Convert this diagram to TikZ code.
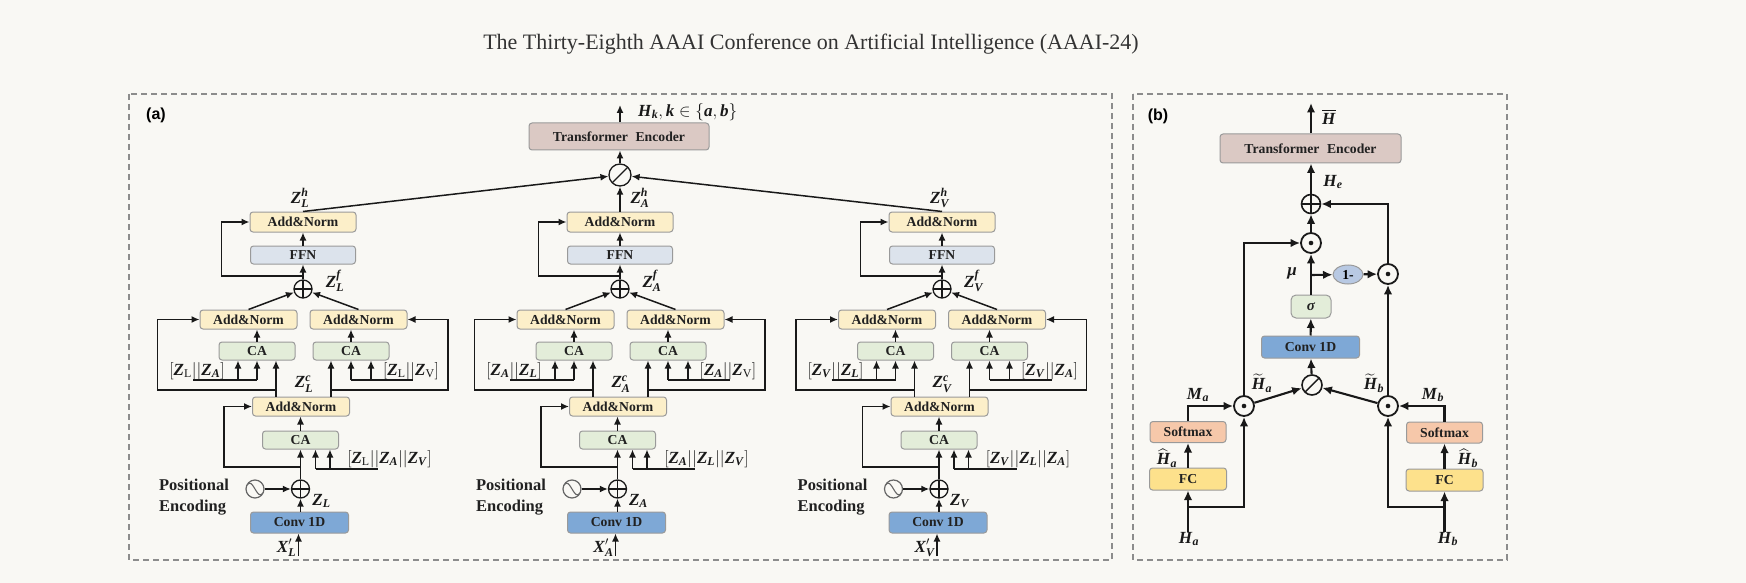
\documentclass[tikz,border=0pt]{standalone}
\usepackage{amsmath}
\usepackage{fontspec}
\setmainfont{Liberation Serif}
\newfontfamily\sansb{Liberation Sans}
\usetikzlibrary{arrows.meta,shapes.geometric,calc}
\definecolor{bg}{HTML}{F9F8F4}
\definecolor{boxgray}{HTML}{9A9A9A}
\definecolor{framegray}{HTML}{8C8C8C}
\definecolor{anfill}{HTML}{FCEFC9}
\definecolor{ffnfill}{HTML}{DCE3EC}
\definecolor{cafill}{HTML}{E3EDD9}
\definecolor{convfill}{HTML}{7EA8D6}
\definecolor{tefill}{HTML}{DBC9C4}
\definecolor{softfill}{HTML}{F6C8AA}
\definecolor{fcfill}{HTML}{FDE18C}
\definecolor{onefill}{HTML}{B8C9E3}
\newcommand{\bi}[1]{\textbf{\textit{#1}}}
% #1 prefix, #2 upper axis x, #3 lower axis x, #4 x offset of Z^h label
\newcommand{\encbranch}[4]{%
  \node[an,minimum width=106pt,minimum height=20pt] (#1an3) at (#2,222) {Add\&Norm};
  \node[ffn] (#1ffn) at (#2,255) {FFN};
  \node[oplus] (#1p2) at (#2,289) {};
  \node[an] (#1anL) at (#3-52,319.5) {Add\&Norm};
  \node[an] (#1anR) at (#3+58,319.5) {Add\&Norm};
  \node[ca] (#1caL) at (#3-43.5,351) {CA};
  \node[ca] (#1caR) at (#3+50.5,351) {CA};
  \node[an] (#1an1) at (#3+0.5,406.5) {Add\&Norm};
  \node[ca] (#1ca1) at (#3,440) {CA};
  \node[oplus] (#1p1) at (#3,489) {};
  \node[sine] (#1sin) at (#3-45.5,489) {};
  \node[conv] (#1conv) at (#3-1,522.5) {Conv 1D};
  % labels
  \node[lab] at (#2+#4,198) {\labh};
  \node[lab] at (#2+32,281) {\labf};
  \node[lab] at (#3+3.5,384) {\labc};
  \node[lab] at (#3+21,501) {\labz};
  \node[lab] (#1x) at (#3-14,548) {\labx};
  \node[lab] at (#3-103.5,371) {\labA};
  \node[lab] at (#3+110.5,371) {\labB};
  \node[lab] at (#3+89,459) {\labC};
  \node[posenc] at (#3-106.5,497.5) {Positional\\Encoding};
  % upper connectors
  \draw[arr] (#1ffn) -- (#1an3);
  \draw[arr] (#1p2) -- (#1ffn);
  \coordinate (#1s3) at (#2,276);
  \draw[arr] (#1s3) -| ([xshift=-28pt]#1an3.west) -- (#1an3.west);
  \draw[arr] (#1anL.north) -- (#1p2);
  \draw[arr] (#1anR.north) -- (#1p2);
  \draw[arr] (#1caL.north) -- (#1caL.north |- #1anL.south);
  \draw[arr] (#1caR.north) -- (#1caR.north |- #1anR.south);
  % left CA inputs
  \coordinate (#1fLa) at (#3-107.5,380);
  \coordinate (#1fLb) at (#3-62.5,380);
  \coordinate (#1fLc) at (#3-43.5,380);
  \draw[ln] (#1fLa) -- (#1fLc);
  \draw[arr] (#1fLb) -- (#1fLb |- #1caL.south);
  \draw[arr] (#1fLc) -- (#1fLc |- #1caL.south);
  % right CA inputs
  \coordinate (#1fRa) at (#3+50.5,380);
  \coordinate (#1fRb) at (#3+70.5,380);
  \coordinate (#1fRc) at (#3+112.5,380);
  \draw[ln] (#1fRa) -- (#1fRc);
  \draw[arr] (#1fRa) -- (#1fRa |- #1caR.south);
  \draw[arr] (#1fRb) -- (#1fRb |- #1caR.south);
  % Z^c branches and skips
  \coordinate (#1zL) at (#3-24.5,390);
  \coordinate (#1zR) at (#3+30.5,390);
  \draw[arr] (#1an1.north -| #1zL) -- (#1zL |- #1caL.south);
  \draw[arr] (#1an1.north -| #1zR) -- (#1zR |- #1caR.south);
  \draw[arr] (#1zL) -| ([xshift=-42pt]#1anL.west) -- (#1anL.west);
  \draw[arr] (#1zR) -| ([xshift=40.5pt]#1anR.east) -- (#1anR.east);
  % lower part
  \draw[arr] (#1ca1.north) -- (#1ca1.north |- #1an1.south);
  \draw[arr] (#1p1) -- (#1ca1);
  \coordinate (#1sk) at (#3,467);
  \draw[arr] (#1sk) -| ([xshift=-28pt]#1an1.west) -- (#1an1.west);
  \coordinate (#1fa) at (#3+15,469);
  \coordinate (#1fb) at (#3+29.5,469);
  \coordinate (#1fc) at (#3+77.5,469);
  \draw[ln] (#1fa) -- (#1fc);
  \draw[arr] (#1fa) -- (#1fa |- #1ca1.south);
  \draw[arr] (#1fb) -- (#1fb |- #1ca1.south);
  \draw[arr] (#1sin) -- (#1p1);
  \draw[arr] (#1p1 |- #1conv.north) -- (#1p1);
  \coordinate (#1in) at (#3-2,556);
  \draw[arr] (#1in) -- (#1in |- #1conv.south);
}
\begin{document}
\begin{tikzpicture}[x=1pt,y=-1pt,
  box/.style={draw=boxgray, line width=1pt, rounded corners=3pt, inner sep=0pt,
    font=\fontsize{13.7}{15}\selectfont\bfseries, text=black!87},
  an/.style={box, fill=anfill, minimum width=97pt, minimum height=19pt},
  ffn/.style={box, fill=ffnfill, minimum width=105pt, minimum height=18pt},
  ca/.style={box, fill=cafill, minimum width=76pt, minimum height=18pt},
  conv/.style={box, fill=convfill, minimum width=98pt, minimum height=21pt},
  te/.style={box, fill=tefill, minimum width=180pt, minimum height=27pt},
  soft/.style={box, fill=softfill, minimum width=76pt, minimum height=21pt},
  fc/.style={box, fill=fcfill, minimum width=77pt, minimum height=22pt},
  lab/.style={inner sep=0pt, font=\fontsize{17}{19}\selectfont, text=black!90},
  posenc/.style={inner sep=0pt, align=left, font=\fontsize{16.5}{21}\selectfont\bfseries, text=black!87},
  ln/.style={line width=1.5pt, draw=black!90},
  arr/.style={ln, -{Latex[length=8pt,width=7pt]}},
  bln/.style={line width=2.1pt, draw=black!90},
  barr/.style={bln, -{Latex[length=9.5pt,width=8.5pt]}},
  opbase/.style={circle, draw=black!90, line width=1.3pt, minimum size=18pt, inner sep=0pt, fill=bg},
  oplus/.style={opbase, path picture={\draw[black!90, line width=1.2pt] (path picture bounding box.north) -- (path picture bounding box.south) (path picture bounding box.west) -- (path picture bounding box.east);}},
  ocat/.style={opbase, minimum size=22pt, path picture={\draw[black!90, line width=1.4pt] (path picture bounding box.south west) -- (path picture bounding box.north east);}},
  odot/.style={opbase, minimum size=20pt, line width=1.8pt, path picture={\fill[black!90] (path picture bounding box.center) circle (2.3pt);}},
  sine/.style={circle, draw=black!60, line width=1.2pt, minimum size=18pt, inner sep=0pt,
    path picture={\draw[black!60, line width=1.1pt, shift={(path picture bounding box.center)}] (-8,-4) .. controls (-2,-13) and (2,13) .. (8,4);}},
  frame/.style={draw=framegray, line width=1.5pt, dash pattern=on 6pt off 4pt}
]
\useasboundingbox (0,0) rectangle (1746,583);
\fill[bg] (0,0) rectangle (1746,583);

\node[font=\fontsize{22}{24}\selectfont, text=black!80, inner sep=0pt] (title) at (811,44.5)
  {The Thirty-Eighth AAAI Conference on Artificial Intelligence (AAAI-24)};

\draw[frame] (129,94) rectangle (1112,560);
\draw[frame] (1133,94) rectangle (1507,560);
\node[font=\fontsize{16}{18}\selectfont\sansb\bfseries, inner sep=0pt] (pa) at (156,115) {(a)};
\node[font=\fontsize{16}{18}\selectfont\sansb\bfseries, inner sep=0pt] (pb) at (1158,116) {(b)};

% ---------- panel (a) ----------
\def\labh{$\bi{Z}^{\bi{h}}_{\bi{L}}$}
\def\labf{$\bi{Z}^{\bi{f}}_{\bi{L}}$}
\def\labc{$\bi{Z}^{\bi{c}}_{\bi{L}}$}
\def\labz{$\bi{Z}_{\bi{L}}$}
\def\labx{$\bi{X}'_{\bi{L}}$}
\def\labA{$[\bi{Z}_{\textrm{L}}||\bi{Z}_{\bi{A}}]$}
\def\labB{$[\bi{Z}_{\textrm{L}}||\bi{Z}_{\textrm{V}}]$}
\def\labC{$[\bi{Z}_{\textrm{L}}||\bi{Z}_{\bi{A}}||\bi{Z}_{\bi{V}}]$}
\encbranch{L}{303}{300.5}{-3}

\def\labh{$\bi{Z}^{\bi{h}}_{\bi{A}}$}
\def\labf{$\bi{Z}^{\bi{f}}_{\bi{A}}$}
\def\labc{$\bi{Z}^{\bi{c}}_{\bi{A}}$}
\def\labz{$\bi{Z}_{\bi{A}}$}
\def\labx{$\bi{X}'_{\bi{A}}$}
\def\labA{$[\bi{Z}_{\bi{A}}||\bi{Z}_{\bi{L}}]$}
\def\labB{$[\bi{Z}_{\bi{A}}||\bi{Z}_{\textrm{V}}]$}
\def\labC{$[\bi{Z}_{\bi{A}}||\bi{Z}_{\bi{L}}||\bi{Z}_{\bi{V}}]$}
\encbranch{A}{620}{617.5}{20}

\def\labh{$\bi{Z}^{\bi{h}}_{\bi{V}}$}
\def\labf{$\bi{Z}^{\bi{f}}_{\bi{V}}$}
\def\labc{$\bi{Z}^{\bi{c}}_{\bi{V}}$}
\def\labz{$\bi{Z}_{\bi{V}}$}
\def\labx{$\bi{X}'_{\bi{V}}$}
\def\labA{$[\bi{Z}_{\bi{V}}||\bi{Z}_{\bi{L}}]$}
\def\labB{$[\bi{Z}_{\bi{V}}||\bi{Z}_{\bi{A}}]$}
\def\labC{$[\bi{Z}_{\bi{V}}||\bi{Z}_{\bi{L}}||\bi{Z}_{\bi{A}}]$}
\encbranch{V}{942}{939}{-2}

\node[te] (te) at (619,136.5) {Transformer\hspace{0.55em}Encoder};
\node[ocat] (cat) at (620,175) {};
\coordinate (hout) at (620,105);
\draw[arr] (cat.north) -- (cat.north |- te.south);
\draw[arr] (te.north -| hout) -- (hout);
\node[lab, anchor=west] (hk) at (638,112) {$\bi{H}_{\bi{k}},\bi{k}\in\{\bi{a},\bi{b}\}$};
\draw[arr] (Lan3.north) -- (cat);
\draw[arr] (Aan3.north) -- (cat);
\draw[arr] (Van3.north) -- (cat);

% ---------- panel (b) ----------
\node[te, minimum width=181pt, minimum height=29pt] (bte) at (1310.5,148.5) {Transformer\hspace{0.55em}Encoder};
\node[oplus, minimum size=19pt, line width=1.6pt] (bplus) at (1311,204) {};
\node[odot] (bd1) at (1311,243) {};
\node[odot] (bd2) at (1388,274) {};
\node[ellipse, draw=boxgray, line width=1pt, fill=onefill, minimum width=30pt, minimum height=19pt, inner sep=0pt,
  font=\fontsize{13.7}{15}\selectfont\bfseries] (one) at (1348,274.5) {1-};
\node[box, fill=cafill, minimum width=40pt, minimum height=23pt, rounded corners=5pt,
  font=\fontsize{15}{16}\selectfont\bfseries\itshape] (sig) at (1311,306.5) {σ};
\node[conv, minimum height=22pt] (bconv) at (1310.5,347) {Conv 1D};
\node[ocat, minimum size=20pt, line width=1.6pt] (bcat) at (1312,385) {};
\node[odot] (bda) at (1244,406) {};
\node[odot] (bdb) at (1388,406) {};
\node[soft] (sma) at (1188,432) {Softmax};
\node[fc] (fca) at (1188,479) {FC};
\node[soft] (smb) at (1444.5,432.5) {Softmax};
\node[fc] (fcb) at (1444.5,480) {FC};
\node[lab] (ha) at (1189,539) {$\bi{H}_{\bi{a}}$};
\node[lab] (hb) at (1448,539) {$\bi{H}_{\bi{b}}$};
\node[lab] at (1329,117) {$\overline{\bi{H}}$};
\node[lab] at (1333,182) {$\bi{H}_{\bi{e}}$};
\node[lab] at (1292,273) {\bfseries\itshape μ};
\node[lab] at (1262,383) {$\widetilde{\bi{H}}_{\bi{a}}$};
\node[lab] at (1374,383) {$\widetilde{\bi{H}}_{\bi{b}}$};
\node[lab] at (1198,395) {$\bi{M}_{\bi{a}}$};
\node[lab] at (1433,395) {$\bi{M}_{\bi{b}}$};
\node[lab] at (1167,458) {$\widehat{\bi{H}}_{\bi{a}}$};
\node[lab] at (1468,458) {$\widehat{\bi{H}}_{\bi{b}}$};

\coordinate (bout) at (1311,103);
\coordinate (mu) at (1311,275);
\coordinate (bra) at (1188,507);
\coordinate (brb) at (1444.5,507);
\draw[barr] (bplus.north) -- (bplus.north |- bte.south);
\draw[barr] (bte.north -| bout) -- (bout);
\draw[barr] (bd1) -- (bplus);
\draw[barr] (sig) -- (bd1);
\draw[barr] (mu) -- (one);
\draw[barr] (one) -- (bd2);
\draw[barr] (bd2.north) |- (bplus.east);
\draw[barr] (bconv) -- (sig);
\draw[barr] (bcat) -- (bconv);
\draw[barr] (bda) -- (bcat);
\draw[barr] (bdb) -- (bcat);
\draw[barr] (bda.north) |- (bd1.west);
\draw[barr] (bdb.north) -- (bd2.south);
\draw[barr] (sma.north) |- (bda.west);
\draw[barr] (smb.north) |- (bdb.east);
\draw[barr] (fca) -- (sma);
\draw[barr] (fcb) -- (smb);
\draw[barr] (fca.south |- ha.north) -- (fca.south);
\draw[barr] (fcb.south |- hb.north) -- (fcb.south);
\draw[barr] (bra) -| (bda.south);
\draw[barr] (brb) -| (bdb.south);
\end{tikzpicture}
\end{document}
